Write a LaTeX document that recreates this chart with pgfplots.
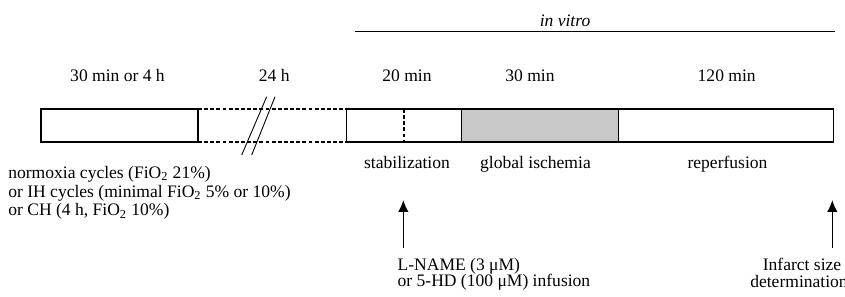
\documentclass[border=0pt]{standalone}
\usepackage{fontspec}
\setmainfont{Liberation Serif}
\usepackage{pgfplots}
\pgfplotsset{compat=1.18}
\usetikzlibrary{arrows.meta}
\definecolor{isch}{RGB}{200,200,200}
\begin{document}
\begin{tikzpicture}
\useasboundingbox (0,0) rectangle (481.65pt,168.72pt);
\clip (0,0) rectangle (481.65pt,168.72pt);
\begin{axis}[at={(0,0)}, anchor=south west, scale only axis,
  width=481.65pt, height=168.72pt, xmin=0, xmax=845, ymin=0, ymax=296,
  y dir=reverse, hide axis, clip=false]
% boxes
\addplot[line width=0.75pt, line cap=rect] coordinates {(41,109) (198,109) (198,142) (41,142) (41,109)};
\addplot[line width=0.75pt, dash pattern=on 2.2pt off 1.3pt] coordinates {(198,109) (346.5,109)};
\addplot[line width=0.75pt, dash pattern=on 2.2pt off 1.3pt] coordinates {(198,142) (346.5,142)};
\addplot[line width=0.75pt, line cap=rect] coordinates {(346.5,109) (461.7,109) (461.7,142) (346.5,142) (346.5,109)};
\addplot[line width=0.75pt, fill=isch, line cap=rect] coordinates {(461.7,109) (618.3,109) (618.3,142) (461.7,142) (461.7,109)};
\addplot[line width=0.75pt, line cap=rect] coordinates {(618.3,109) (833.3,109) (833.3,142) (618.3,142) (618.3,109)};
\addplot[line width=0.75pt, dash pattern=on 2.2pt off 1.3pt] coordinates {(404,109) (404,142)};
% break slashes
\addplot[line width=0.5pt] coordinates {(266.7,96.7) (241.7,155)};
\addplot[line width=0.5pt] coordinates {(275,96.7) (251.7,155)};
% in vitro line
\addplot[line width=0.5pt] coordinates {(355,31) (835,31)};
% arrows
\addplot[line width=0.9pt, -{Latex[length=6.8pt,width=6pt]}] coordinates {(403.3,248) (403.3,200)};
\addplot[line width=0.9pt, -{Latex[length=6.8pt,width=6pt]}] coordinates {(832.3,248) (832.3,200)};
% texts
\node[anchor=base] at (axis cs:565,26) {\textit{in vitro}};
\node[anchor=base] at (axis cs:117.5,81) {30 min or 4 h};
\node[anchor=base] at (axis cs:274.3,81) {24 h};
\node[anchor=base] at (axis cs:407,81) {20 min};
\node[anchor=base] at (axis cs:530,81) {30 min};
\node[anchor=base] at (axis cs:726.7,81) {120 min};
\node[anchor=base] at (axis cs:407,168) {stabilization};
\node[anchor=base] at (axis cs:535.5,168) {global ischemia};
\node[anchor=base] at (axis cs:727.5,168) {reperfusion};
\node[anchor=base west, inner xsep=0pt] at (axis cs:8,178) {normoxia cycles (FiO\textsubscript{2} 21\%)};
\node[anchor=base west, inner xsep=0pt] at (axis cs:8,197) {or IH cycles (minimal FiO\textsubscript{2} 5\% or 10\%)};
\node[anchor=base west, inner xsep=0pt] at (axis cs:8,215.5) {or CH (4 h, FiO\textsubscript{2} 10\%)};
\node[anchor=base west, inner xsep=0pt] at (axis cs:397.3,270) {L-NAME (3 μM)};
\node[anchor=base west, inner xsep=0pt] at (axis cs:397.3,286.5) {or 5-HD (100 μM) infusion};
\node[anchor=base, inner xsep=0pt] at (axis cs:802,270.7) {Infarct size};
\node[anchor=base, inner xsep=0pt] at (axis cs:799,287) {determination};
\end{axis}
\end{tikzpicture}
\end{document}
